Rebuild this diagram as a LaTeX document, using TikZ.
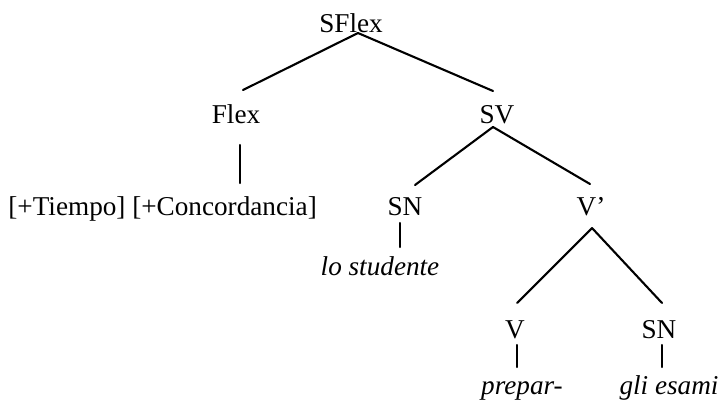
\documentclass[tikz,border=0pt]{standalone}
\usepackage{fontspec}
\setmainfont{Liberation Serif}
\begin{document}
\begin{tikzpicture}[x=0.5pt,y=-0.5pt,
  cat/.style={anchor=base,inner sep=0pt,font=\fontsize{13.6pt}{16pt}\selectfont},
  word/.style={cat,font=\fontsize{13.6pt}{16pt}\selectfont\itshape},
  branch/.style={line width=1.05pt,line cap=round}]
\useasboundingbox (0,0) rectangle (722,402);
% categories
\node[cat] (sflex) at (351,32) {SFlex};
\node[cat] (flex)  at (236,123) {Flex};
\node[cat] (sv)    at (497,123) {SV};
\node[cat,anchor=base west] (rasgos) at (8,215) {[+Tiempo] [+Concordancia]};
\node[cat] (sn1)   at (405,215) {SN};
\node[cat] (vbar)  at (591,215) {V’};
\node[cat] (v)     at (515,338) {V};
\node[cat] (sn2)   at (659,338) {SN};
% terminals
\node[word] (suj)  at (380,275) {lo studente};
\node[word] (verb) at (522,394) {prepar-};
\node[word] (obj)  at (669,394) {gli esami};
% branches
\draw[branch] ([shift={(7,1)}]sflex.base) -- ([shift={(7,-33)}]flex.base);
\draw[branch] ([shift={(7,1)}]sflex.base) -- ([shift={(-4,-32)}]sv.base);
\draw[branch] ([shift={(4,22)}]flex.base) -- ([shift={(4,60)}]flex.base);
\draw[branch] ([shift={(-4,4)}]sv.base) -- ([shift={(10,-30)}]sn1.base);
\draw[branch] ([shift={(-4,4)}]sv.base) -- ([shift={(-1,-31)}]vbar.base);
\draw[branch] ([shift={(-5,8)}]sn1.base) -- ([shift={(20,-28)}]suj.base);
\draw[branch] ([shift={(1,13)}]vbar.base) -- ([shift={(2,-35)}]v.base);
\draw[branch] ([shift={(1,13)}]vbar.base) -- ([shift={(3,-35)}]sn2.base);
\draw[branch] ([shift={(2,7)}]v.base) -- ([shift={(-5,-27)}]verb.base);
\draw[branch] ([shift={(3,7)}]sn2.base) -- ([shift={(-7,-27)}]obj.base);
\end{tikzpicture}
\end{document}
